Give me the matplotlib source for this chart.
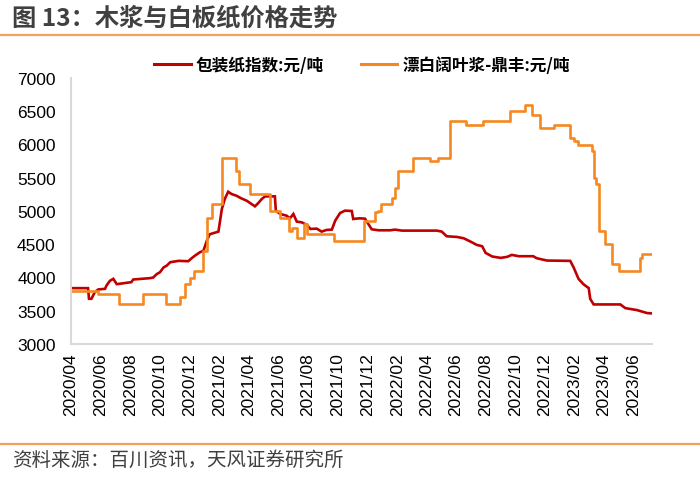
import matplotlib
matplotlib.use("Agg")
import matplotlib.pyplot as plt
import matplotlib.dates as mdates
import pandas as pd
from matplotlib.lines import Line2D

# 包装纸指数 (元/吨)
paper_dates = [
    "2020-04-01", "2020-05-06", "2020-05-08", "2020-05-13", "2020-05-20", "2020-05-27",
    "2020-06-10", "2020-06-13", "2020-06-20", "2020-06-27", "2020-07-04", "2020-08-03",
    "2020-08-07", "2020-09-10", "2020-09-17", "2020-09-24", "2020-10-01", "2020-10-08",
    "2020-10-15", "2020-10-22", "2020-11-08", "2020-11-28", "2020-12-05", "2020-12-12",
    "2020-12-22", "2020-12-29", "2021-01-05", "2021-01-11", "2021-01-29", "2021-02-05",
    "2021-02-11", "2021-02-18", "2021-02-25", "2021-03-07", "2021-03-17", "2021-03-28",
    "2021-04-07", "2021-04-14", "2021-04-21", "2021-04-28", "2021-05-05", "2021-05-25",
    "2021-05-27", "2021-06-05", "2021-06-18", "2021-06-25", "2021-07-02", "2021-07-09",
    "2021-07-19", "2021-07-30", "2021-08-06", "2021-08-19", "2021-08-29", "2021-09-08",
    "2021-09-19", "2021-09-26", "2021-10-06", "2021-10-16", "2021-10-30", "2021-11-02",
    "2021-11-15", "2021-11-26", "2021-12-03", "2021-12-10", "2021-12-24", "2022-01-17",
    "2022-01-27", "2022-02-10", "2022-04-23", "2022-05-03", "2022-05-13", "2022-06-03",
    "2022-06-17", "2022-07-01", "2022-07-14", "2022-07-25", "2022-08-01", "2022-08-15",
    "2022-09-01", "2022-09-14", "2022-09-24", "2022-10-08", "2022-11-07", "2022-11-14",
    "2022-12-05", "2023-01-22", "2023-01-29", "2023-02-08", "2023-02-18", "2023-03-01",
    "2023-03-04", "2023-03-11", "2023-05-05", "2023-05-15", "2023-06-08", "2023-06-29",
    "2023-07-09",
]
paper_values = [
    3840, 3840, 3680, 3680, 3780, 3820,
    3830, 3880, 3950, 3980, 3900, 3930,
    3970, 3990, 4000, 4050, 4080, 4150,
    4180, 4230, 4250, 4245, 4290, 4330,
    4380, 4400, 4550, 4650, 4690, 5030,
    5180, 5290, 5255, 5230, 5190, 5155,
    5105, 5070, 5120, 5180, 5220, 5220,
    5005, 4955, 4930, 4890, 4955, 4840,
    4830, 4790, 4730, 4735, 4690, 4715,
    4720, 4855, 4970, 5005, 5000, 4880,
    4890, 4885, 4805, 4725, 4710, 4710,
    4720, 4705, 4705, 4690, 4620, 4610,
    4590, 4540, 4490, 4470, 4370, 4315,
    4295, 4310, 4340, 4320, 4320, 4290,
    4255, 4250, 4150, 3980, 3900, 3840,
    3680, 3595, 3595, 3540, 3510, 3465,
    3460,
]

# 漂白阔叶浆-鼎丰 (元/吨), step series: date of each change and new value
pulp_dates = [
    "2020-04-01", "2020-05-27", "2020-07-09", "2020-08-26", "2020-10-13", "2020-11-10",
    "2020-11-21", "2020-12-02", "2020-12-09", "2020-12-29", "2021-01-05", "2021-01-15",
    "2021-02-05", "2021-03-06", "2021-03-13", "2021-04-03", "2021-05-14", "2021-06-05",
    "2021-06-22", "2021-06-29", "2021-07-09", "2021-07-23", "2021-07-30", "2021-09-24",
    "2021-11-25", "2021-12-17", "2021-12-22", "2021-12-29", "2022-01-21", "2022-01-26",
    "2022-02-03", "2022-03-05", "2022-04-09", "2022-04-25", "2022-05-19", "2022-06-22",
    "2022-07-27", "2022-09-21", "2022-10-22", "2022-11-04", "2022-11-20", "2022-12-20",
    "2023-01-21", "2023-01-29", "2023-02-06", "2023-03-08", "2023-03-11", "2023-03-15",
    "2023-03-22", "2023-04-04", "2023-04-18", "2023-05-02", "2023-06-14", "2023-06-19",
    "2023-07-09",
]
pulp_values = [
    3800, 3750, 3600, 3750, 3600, 3700,
    3900, 4000, 4100, 4400, 4900, 5100,
    5800, 5600, 5400, 5250, 5000, 4900,
    4700, 4750, 4600, 4800, 4650, 4550,
    4850, 4980, 5000, 5100, 5190, 5350,
    5600, 5800, 5750, 5800, 6350, 6300,
    6350, 6500, 6600, 6450, 6250, 6300,
    6100, 6050, 6000, 5900, 5500, 5400,
    4700, 4500, 4200, 4100, 4300, 4350,
    4350,
]

paper_label = "包装纸指数:元/吨"
pulp_label = "漂白阔叶浆-鼎丰:元/吨"
title = "图 13：木浆与白板纸价格走势"
source = "资料来源：百川资讯，天风证券研究所"

RED = "#C00000"
ORANGE = "#F7881F"
CJK = ["Noto Sans CJK SC", "DejaVu Sans"]
LAT = ["Liberation Sans", "Noto Sans CJK SC"]

plt.rcParams["font.family"] = LAT

fig = plt.figure(figsize=(7.0, 4.81), dpi=100)
ax = fig.add_axes([71/700, 1-345/481, (652-71)/700, (345-79)/481])

pd_dates = pd.to_datetime(paper_dates)
pu_dates = pd.to_datetime(pulp_dates)
ax.plot(pd_dates, paper_values, color=RED, lw=1.9, solid_joinstyle="miter")
ax.plot(pu_dates, pulp_values, color=ORANGE, lw=1.9, drawstyle="steps-post")

ax.set_ylim(3000, 7000)
ax.set_yticks(range(3000, 7001, 500))
ax.set_xlim(pd_dates[0], pd_dates[-1])
ax.xaxis.set_major_locator(mdates.MonthLocator(bymonth=[2, 4, 6, 8, 10, 12]))
ax.xaxis.set_major_formatter(mdates.DateFormatter("%Y/%m"))
ax.tick_params(axis="both", length=0, labelsize=12.5, colors="#000000")
ax.tick_params(axis="x", rotation=90, pad=6)
ax.tick_params(axis="y", pad=11)
for s in ("top", "right"):
    ax.spines[s].set_visible(False)
for s in ("left", "bottom"):
    ax.spines[s].set_color("#D9D9D9")
    ax.spines[s].set_linewidth(1.5)

handles = [Line2D([], [], color=RED, lw=2.2), Line2D([], [], color=ORANGE, lw=2.2)]
fig.legend(handles, [paper_label, pulp_label], loc="center",
           bbox_to_anchor=(362/700, 1-66/481), ncol=2, frameon=False,
           prop={"family": CJK, "size": 12, "weight": "bold"},
           handlelength=2.2, handletextpad=0.3, columnspacing=2.2)

fig.text(12/700, 1-19/481, title, ha="left", va="center", fontsize=17.5,
         fontweight="bold", color="#404040", family=CJK)
fig.add_artist(Line2D([0, 1], [1-36/481, 1-36/481], color="#F4A05A", lw=1.6))
fig.add_artist(Line2D([0, 1], [1-445/481, 1-445/481], color="#F4A05A", lw=1.6))
fig.text(12/700, 1-460/481, source, ha="left", va="center", fontsize=14,
         color="#404040", family=CJK)

fig.savefig("out.png", dpi=100)
